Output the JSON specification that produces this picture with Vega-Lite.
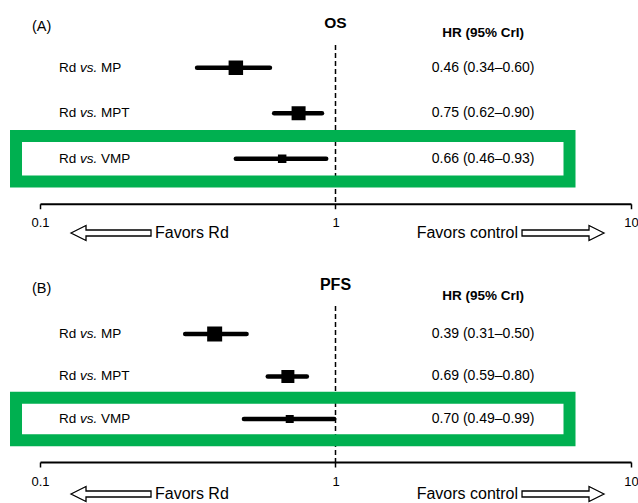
{
  "$schema": "https://vega.github.io/schema/vega-lite/v6.json",
  "padding": {"left": 10, "top": 0, "right": 0, "bottom": 0},
  "spacing": 0,
  "bounds": "flush",
  "resolve": {"scale": {"x": "independent", "y": "independent"}},
  "config": {
    "view": {"stroke": null},
    "font": "Liberation Sans",
    "text": {"font": "Liberation Sans", "color": "black", "baseline": "middle"},
    "axisX": {"domainColor": "black", "domainWidth": 2, "tickColor": "black", "tickWidth": 1.5, "tickSize": 5, "labelColor": "black", "labelFontSize": 13, "labelFont": "Liberation Sans", "labelPadding": 8, "labelFlush": false, "labelOverlap": false, "grid": false, "title": null}
  },
  "datasets": {
    "one": [{}],
    "os": [
      {"control": "MP", "hr": 0.46, "lo": 0.34, "hi": 0.60, "ci": "0.46 (0.34–0.60)"},
      {"control": "MPT", "hr": 0.75, "lo": 0.62, "hi": 0.90, "ci": "0.75 (0.62–0.90)"},
      {"control": "VMP", "hr": 0.66, "lo": 0.46, "hi": 0.93, "ci": "0.66 (0.46–0.93)"}
    ],
    "pfs": [
      {"control": "MP", "hr": 0.39, "lo": 0.31, "hi": 0.50, "ci": "0.39 (0.31–0.50)"},
      {"control": "MPT", "hr": 0.69, "lo": 0.59, "hi": 0.80, "ci": "0.69 (0.59–0.80)"},
      {"control": "VMP", "hr": 0.70, "lo": 0.49, "hi": 0.99, "ci": "0.70 (0.49–0.99)"}
    ]
  },
  "vconcat": [
    {
      "width": 591, "height": 44.25,
      "data": {"name": "one"},
      "layer": [
        {"mark": {"type": "text", "text": "(A)", "fontSize": 14.5, "align": "center", "dy": 5},
         "encoding": {"x": {"datum": 0.1013, "type": "quantitative", "scale": {"type": "log", "domain": [0.1, 10], "nice": false}, "axis": null}}},
        {"mark": {"type": "text", "text": "OS", "fontSize": 15.5, "fontWeight": "bold", "align": "center", "dy": 1},
         "encoding": {"x": {"datum": 1, "type": "quantitative", "scale": {"type": "log", "domain": [0.1, 10], "nice": false}, "axis": null}}},
        {"mark": {"type": "text", "text": "HR (95% CrI)", "fontSize": 13.5, "fontWeight": "bold", "align": "center", "dy": 11},
         "encoding": {"x": {"datum": 3.16, "type": "quantitative", "scale": {"type": "log", "domain": [0.1, 10], "nice": false}, "axis": null}}}
      ]
    },
    {
      "width": 591, "height": 158.75,
      "data": {"name": "os"},
      "layer": [
        {"data": {"name": "one"},
         "mark": {"type": "rule", "strokeDash": [5, 3], "strokeWidth": 1.5, "color": "black"},
         "encoding": {"x": {"datum": 1, "type": "quantitative", "scale": {"type": "log", "domain": [0.1, 10], "nice": false}, "axis": {"values": [0.1, 1, 10], "format": "~g"}}}},
        {"mark": {"type": "rule", "strokeWidth": 4.5, "strokeCap": "round", "color": "black"},
         "encoding": {
           "x": {"field": "lo", "type": "quantitative", "scale": {"type": "log", "domain": [0.1, 10], "nice": false}, "axis": {"values": [0.1, 1, 10], "format": "~g"}},
           "x2": {"field": "hi"},
           "y": {"field": "control", "type": "nominal", "scale": {"type": "band", "domain": ["MP", "MPT", "VMP"], "paddingInner": 0, "paddingOuter": 0.2445, "align": 0}, "axis": null}}},
        {"mark": {"type": "point", "shape": "square", "filled": true, "color": "black", "opacity": 1},
         "encoding": {
           "x": {"field": "hr", "type": "quantitative", "scale": {"type": "log", "domain": [0.1, 10], "nice": false}, "axis": {"values": [0.1, 1, 10], "format": "~g"}},
           "y": {"field": "control", "type": "nominal", "axis": null},
           "size": {"condition": [{"test": "datum.control === 'VMP'", "value": 72}, {"test": "datum.control === 'MPT'", "value": 196}], "value": 210}}},
        {"mark": {"type": "text", "text": "Rd", "align": "left", "fontSize": 13.5},
         "encoding": {
           "x": {"datum": 0.116, "type": "quantitative"},
           "y": {"field": "control", "type": "nominal", "axis": null}}},
        {"mark": {"type": "text", "text": "vs.", "align": "left", "fontSize": 13.5, "fontStyle": "italic", "dx": 21},
         "encoding": {
           "x": {"datum": 0.116, "type": "quantitative"},
           "y": {"field": "control", "type": "nominal", "axis": null}}},
        {"mark": {"type": "text", "align": "left", "fontSize": 13.5, "dx": 42},
         "encoding": {
           "x": {"datum": 0.116, "type": "quantitative"},
           "y": {"field": "control", "type": "nominal", "axis": null},
           "text": {"field": "control"}}},
        {"mark": {"type": "text", "align": "center", "fontSize": 14},
         "encoding": {
           "x": {"datum": 3.16, "type": "quantitative"},
           "y": {"field": "control", "type": "nominal", "axis": null},
           "text": {"field": "ci"}}},
        {"transform": [{"filter": "datum.control === 'VMP'"}],
         "mark": {"type": "rect", "filled": false, "stroke": "#00B050", "strokeWidth": 12},
         "encoding": {
           "x": {"datum": 0.08295, "type": "quantitative"},
           "x2": {"datum": 6.193},
           "y": {"field": "control", "type": "nominal", "axis": null}}}
      ]
    },
    {
      "width": 591, "height": 58,
      "data": {"name": "one"},
      "layer": [
        {"mark": {"type": "point", "shape": "M-1,0 L-0.625,-0.1875 L-0.625,-0.075 L1,-0.075 L1,0.075 L-0.625,0.075 L-0.625,0.1875 Z", "size": 6400, "filled": true, "fill": "white", "stroke": "black", "strokeWidth": 1.3, "opacity": 1},
         "encoding": {"x": {"datum": 0.1739, "type": "quantitative", "scale": {"type": "log", "domain": [0.1, 10], "nice": false}, "axis": null}}},
        {"mark": {"type": "text", "text": "Favors Rd", "align": "left", "fontSize": 16},
         "encoding": {"x": {"datum": 0.245, "type": "quantitative"}}},
        {"mark": {"type": "text", "text": "Favors control", "align": "right", "fontSize": 16},
         "encoding": {"x": {"datum": 4.146, "type": "quantitative"}}},
        {"mark": {"type": "point", "shape": "M1,0 L0.634,-0.183 L0.634,-0.073 L-1,-0.073 L-1,0.073 L0.634,0.073 L0.634,0.183 Z", "size": 6724, "filled": true, "fill": "white", "stroke": "black", "strokeWidth": 1.3, "opacity": 1},
         "encoding": {"x": {"datum": 5.888, "type": "quantitative"}}}
      ]
    },
    {
      "width": 591, "height": 44,
      "data": {"name": "one"},
      "layer": [
        {"mark": {"type": "text", "text": "(B)", "fontSize": 14.5, "align": "center", "dy": 5},
         "encoding": {"x": {"datum": 0.1013, "type": "quantitative", "scale": {"type": "log", "domain": [0.1, 10], "nice": false}, "axis": null}}},
        {"mark": {"type": "text", "text": "PFS", "fontSize": 16, "fontWeight": "bold", "align": "center", "dy": 1},
         "encoding": {"x": {"datum": 1, "type": "quantitative"}}},
        {"mark": {"type": "text", "text": "HR (95% CrI)", "fontSize": 13.5, "fontWeight": "bold", "align": "center", "dy": 12},
         "encoding": {"x": {"datum": 3.16, "type": "quantitative"}}}
      ]
    },
    {
      "width": 591, "height": 156,
      "data": {"name": "pfs"},
      "layer": [
        {"data": {"name": "one"},
         "mark": {"type": "rule", "strokeDash": [5, 3], "strokeWidth": 1.5, "color": "black"},
         "encoding": {"x": {"datum": 1, "type": "quantitative", "scale": {"type": "log", "domain": [0.1, 10], "nice": false}, "axis": {"values": [0.1, 1, 10], "format": "~g"}}}},
        {"mark": {"type": "rule", "strokeWidth": 4.5, "strokeCap": "round", "color": "black"},
         "encoding": {
           "x": {"field": "lo", "type": "quantitative", "scale": {"type": "log", "domain": [0.1, 10], "nice": false}, "axis": {"values": [0.1, 1, 10], "format": "~g"}},
           "x2": {"field": "hi"},
           "y": {"field": "control", "type": "nominal", "scale": {"type": "band", "domain": ["MP", "MPT", "VMP"], "paddingInner": 0, "paddingOuter": 0.3353, "align": 0.2368}, "axis": null}}},
        {"mark": {"type": "point", "shape": "square", "filled": true, "color": "black", "opacity": 1},
         "encoding": {
           "x": {"field": "hr", "type": "quantitative", "scale": {"type": "log", "domain": [0.1, 10], "nice": false}, "axis": {"values": [0.1, 1, 10], "format": "~g"}},
           "y": {"field": "control", "type": "nominal", "axis": null},
           "size": {"condition": [{"test": "datum.control === 'VMP'", "value": 64}, {"test": "datum.control === 'MPT'", "value": 169}], "value": 225}}},
        {"mark": {"type": "text", "text": "Rd", "align": "left", "fontSize": 13.5},
         "encoding": {
           "x": {"datum": 0.116, "type": "quantitative"},
           "y": {"field": "control", "type": "nominal", "axis": null}}},
        {"mark": {"type": "text", "text": "vs.", "align": "left", "fontSize": 13.5, "fontStyle": "italic", "dx": 21},
         "encoding": {
           "x": {"datum": 0.116, "type": "quantitative"},
           "y": {"field": "control", "type": "nominal", "axis": null}}},
        {"mark": {"type": "text", "align": "left", "fontSize": 13.5, "dx": 42},
         "encoding": {
           "x": {"datum": 0.116, "type": "quantitative"},
           "y": {"field": "control", "type": "nominal", "axis": null},
           "text": {"field": "control"}}},
        {"mark": {"type": "text", "align": "center", "fontSize": 14},
         "encoding": {
           "x": {"datum": 3.16, "type": "quantitative"},
           "y": {"field": "control", "type": "nominal", "axis": null},
           "text": {"field": "ci"}}},
        {"transform": [{"filter": "datum.control === 'VMP'"}],
         "mark": {"type": "rect", "filled": false, "stroke": "#00B050", "strokeWidth": 12},
         "encoding": {
           "x": {"datum": 0.08295, "type": "quantitative"},
           "x2": {"datum": 6.193},
           "y": {"field": "control", "type": "nominal", "axis": null}}}
      ]
    },
    {
      "width": 591, "height": 42,
      "data": {"name": "one"},
      "layer": [
        {"mark": {"type": "point", "shape": "M-1,0.275 L-0.625,0.0875 L-0.625,0.2 L1,0.2 L1,0.35 L-0.625,0.35 L-0.625,0.4625 Z", "size": 6400, "filled": true, "fill": "white", "stroke": "black", "strokeWidth": 1.3, "opacity": 1},
         "encoding": {"x": {"datum": 0.1739, "type": "quantitative", "scale": {"type": "log", "domain": [0.1, 10], "nice": false}, "axis": null}}},
        {"mark": {"type": "text", "text": "Favors Rd", "align": "left", "fontSize": 16, "dy": 11},
         "encoding": {"x": {"datum": 0.245, "type": "quantitative"}}},
        {"mark": {"type": "text", "text": "Favors control", "align": "right", "fontSize": 16, "dy": 11},
         "encoding": {"x": {"datum": 4.146, "type": "quantitative"}}},
        {"mark": {"type": "point", "shape": "M1,0.268 L0.634,0.085 L0.634,0.195 L-1,0.195 L-1,0.341 L0.634,0.341 L0.634,0.451 Z", "size": 6724, "filled": true, "fill": "white", "stroke": "black", "strokeWidth": 1.3, "opacity": 1},
         "encoding": {"x": {"datum": 5.888, "type": "quantitative"}}}
      ]
    }
  ]
}
